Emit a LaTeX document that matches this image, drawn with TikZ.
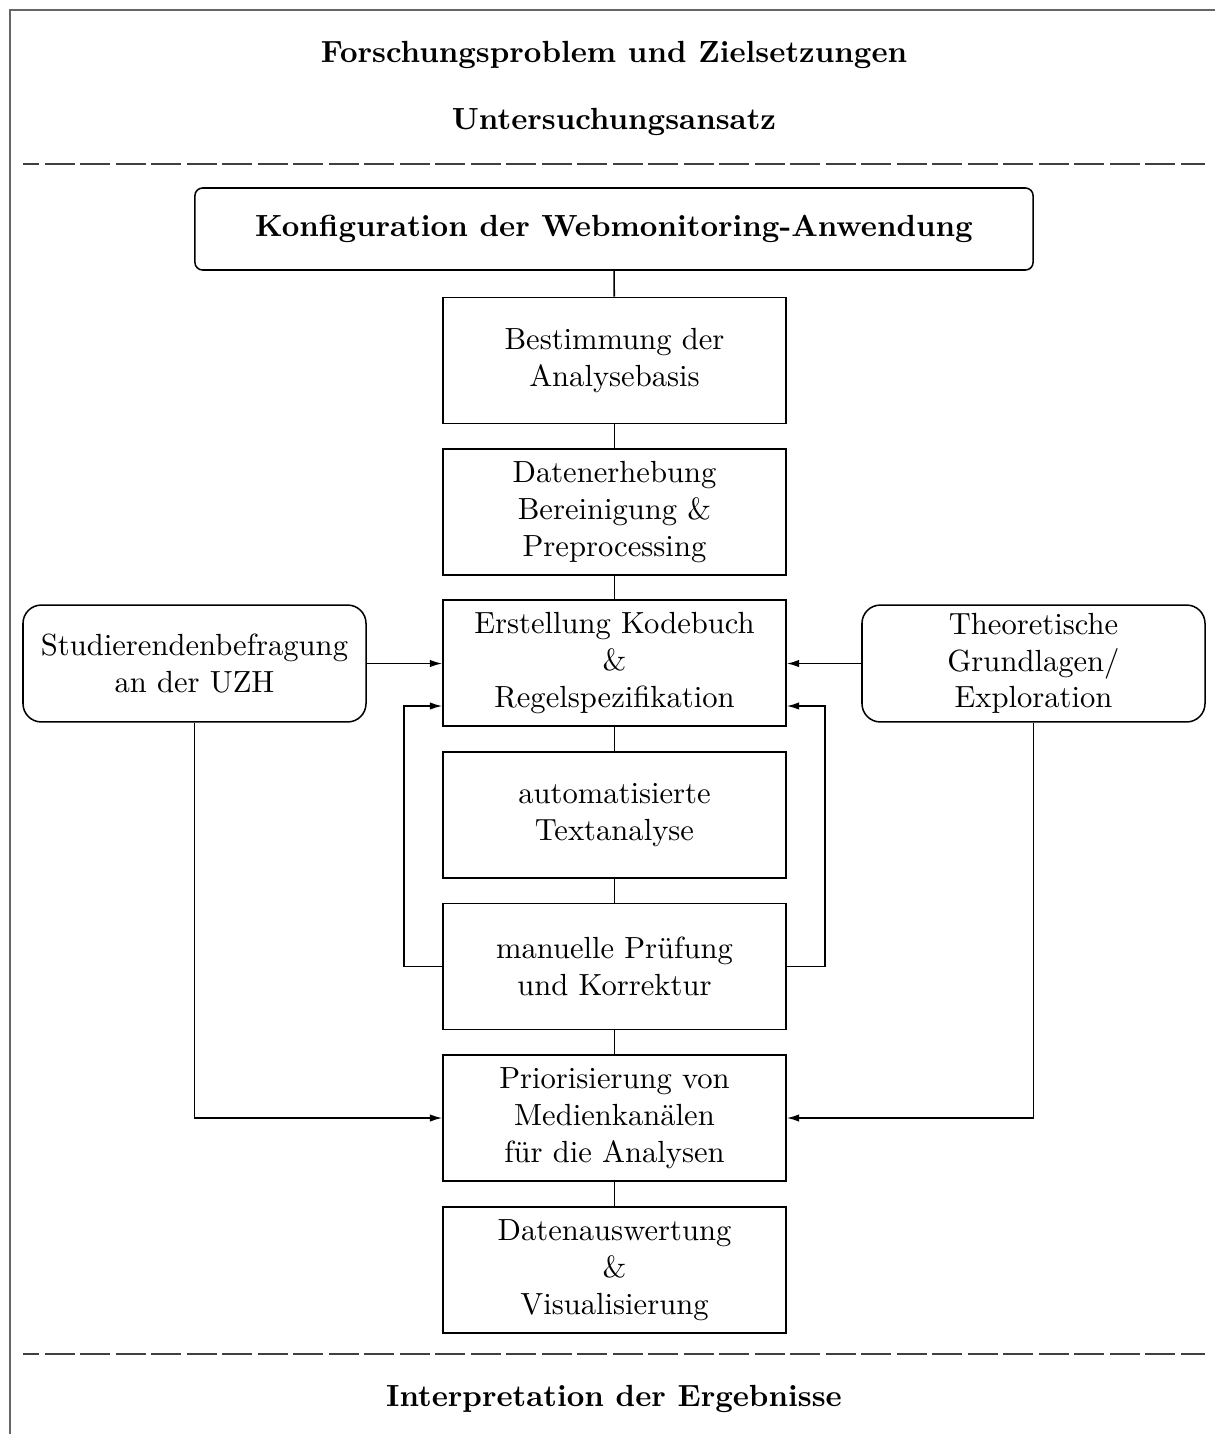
\documentclass[tikz,border=0pt]{standalone}
\usetikzlibrary{arrows.meta,calc}
\begin{document}
\begin{tikzpicture}[x=0.3268pt,y=-0.3268pt,
  line width=0.5pt,
  every node/.style={font=\normalsize},
  stepbox/.style={draw,minimum width=112.1pt,minimum height=41.2pt,align=center,inner sep=2pt},
  sidebox/.style={draw,rounded corners=6pt,minimum width=112.1pt,minimum height=38.2pt,align=center,inner sep=2pt},
  headbox/.style={draw,rounded corners=2.5pt,minimum width=273.9pt,minimum height=26.8pt,align=center,font=\bfseries},
  heading/.style={font=\bfseries,anchor=base},
  sep/.style={draw=black!75,dash pattern=on 9.8pt off 1.8pt,dash phase=4.5pt},
  frame/.style={draw=black!60},
  arr/.style={-{Latex[length=4pt,width=2.4pt]}},
  link/.style={draw}]
\useasboundingbox (0,0) rectangle (1215,1434);

% open frame
\coordinate (fTL) at (10,10);
\coordinate (fTR) at (1215,10);
\coordinate (fBL) at (10,1434);
\path[frame] (fTR) -- (fTL) -- (fBL);

% headings
\node[heading] (title) at (614,62) {Forschungsproblem und Zielsetzungen};
\node[heading] (ansatz) at (614,129) {Untersuchungsansatz};
\node[heading] (interp) at (614,1406) {Interpretation der Ergebnisse};

% separators
\coordinate (s1a) at (23,164);
\coordinate (s1b) at (1205,164);
\coordinate (s2a) at (23,1354);
\coordinate (s2b) at (1205,1354);
\path[sep] (s1a) -- (s1b);
\path[sep] (s2a) -- (s2b);

% main column
\node[headbox] (konf) at (614,229) {Konfiguration der Webmonitoring-Anwendung};
\node[stepbox] (b1) at (614.5,360.5) {Bestimmung der\\Analysebasis};
\node[stepbox] (b2) at (614.5,512) {Datenerhebung\\Bereinigung \&\\Preprocessing};
\node[stepbox] (b3) at (614.5,663) {Erstellung Kodebuch\\\&\\Regelspezifikation};
\node[stepbox] (b4) at (614.5,815) {automatisierte\\Textanalyse};
\node[stepbox] (b5) at (614.5,966.5) {manuelle Prüfung\\und Korrektur};
\node[stepbox] (b6) at (614.5,1118) {Priorisierung von\\Medienkanälen\\für die Analysen};
\node[stepbox] (b7) at (614.5,1270) {Datenauswertung\\\&\\Visualisierung};

% side inputs
\node[sidebox] (left) at (194.5,663.5) {Studierendenbefragung\\an der UZH};
\node[sidebox] (right) at (1033.5,663.5) {Theoretische\\Grundlagen/\\Exploration};

% column links
\path[link] (konf) -- (b1);
\path[link] (b1) -- (b2);
\path[link] (b2) -- (b3);
\path[link] (b3) -- (b4);
\path[link] (b4) -- (b5);
\path[link] (b5) -- (b6);
\path[link] (b6) -- (b7);

% inputs to codebook
\draw[arr] (left.east) -- (left.east -| b3.west);
\draw[arr] (right.west) -- (right.west -| b3.east);

% feedback loops
\draw[arr] (b5.west) -- ++(-38,0) |- ($(b3.west)+(0,43)$);
\draw[arr] (b5.east) -- ++(38,0) |- ($(b3.east)+(0,43)$);

% inputs to prioritisation
\draw[arr] (left.south) |- (b6.west);
\draw[arr] (right.south) |- (b6.east);
\end{tikzpicture}
\end{document}
